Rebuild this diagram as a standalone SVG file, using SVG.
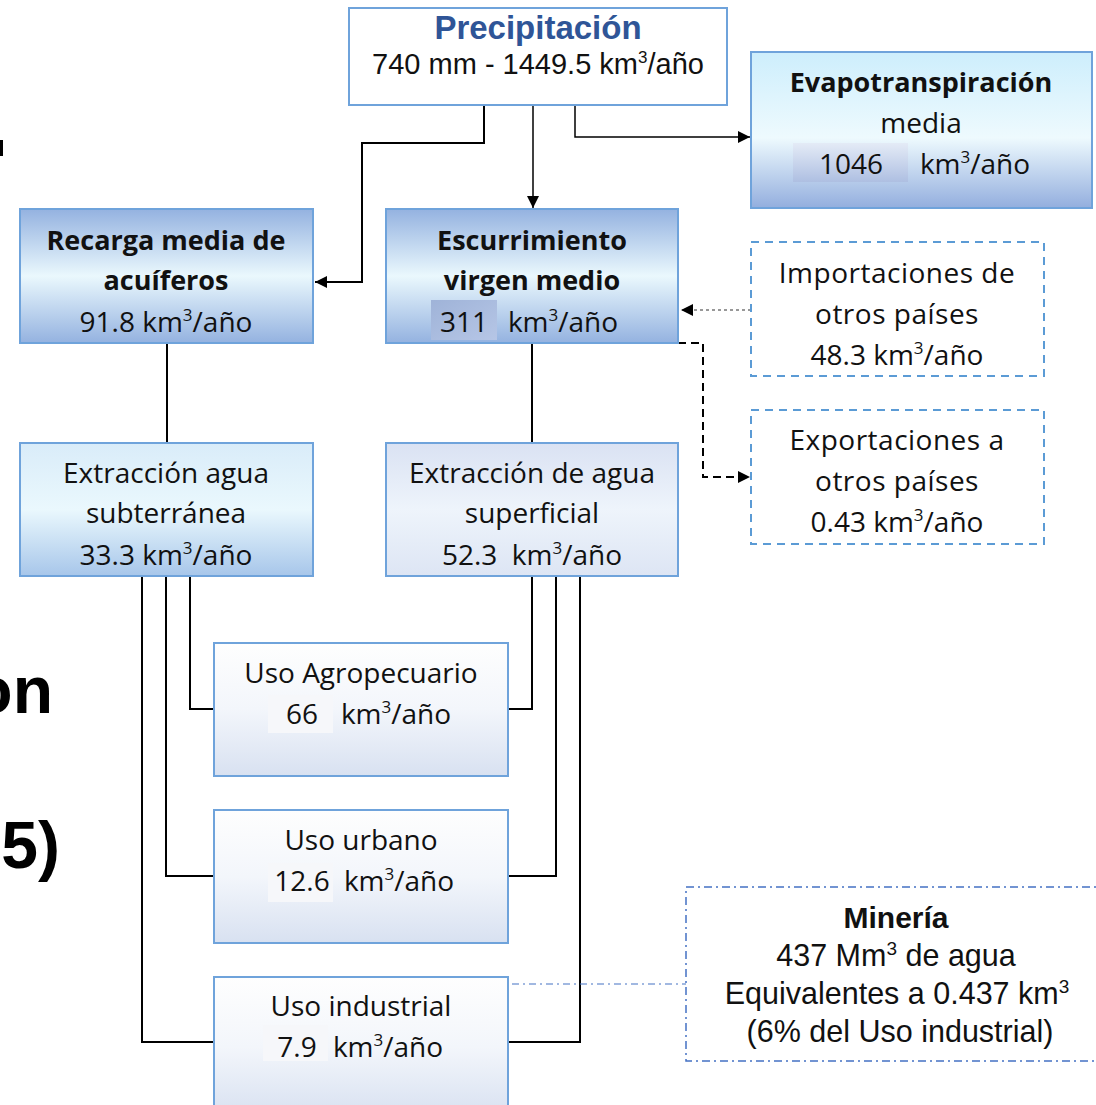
<svg xmlns="http://www.w3.org/2000/svg" width="1096" height="1105" viewBox="0 0 1096 1105">
<style>
.box{stroke:#6fa3db;stroke-width:2}
.t{font-family:"Open Sans","Liberation Sans",sans-serif;font-size:28px;fill:#111;text-anchor:middle}
.b{font-weight:bold}
.a{font-family:"Liberation Sans",Arial,sans-serif}
.ln{stroke:#000;stroke-width:2;fill:none}
.dash{stroke:#5b9bd5;stroke-width:2;stroke-dasharray:8 6;fill:#fff}
</style>
<defs>
<marker id="ah" viewBox="0 0 10 10" refX="10" refY="5" markerWidth="13" markerHeight="12" markerUnits="userSpaceOnUse" orient="auto"><path d="M0,0 L10,5 L0,10z" fill="#000"/></marker>
<linearGradient id="gEv" x1="0" y1="0" x2="0" y2="1"><stop offset="0" stop-color="#cdeefc"/><stop offset="0.55" stop-color="#eefafe"/><stop offset="1" stop-color="#93aede"/></linearGradient>
<linearGradient id="gRe" x1="0" y1="0" x2="0" y2="1"><stop offset="0" stop-color="#94b2e0"/><stop offset="0.5" stop-color="#eaf8fd"/><stop offset="1" stop-color="#94b2e0"/></linearGradient>
<linearGradient id="gSub" x1="0" y1="0" x2="0" y2="1"><stop offset="0" stop-color="#d9ecf9"/><stop offset="0.5" stop-color="#eaf8fd"/><stop offset="1" stop-color="#a7c6ea"/></linearGradient>
<linearGradient id="gSup" x1="0" y1="0" x2="0" y2="1"><stop offset="0" stop-color="#dae2f3"/><stop offset="0.5" stop-color="#eef4fb"/><stop offset="1" stop-color="#dde5f4"/></linearGradient>
<linearGradient id="gUso" x1="0" y1="0" x2="0" y2="1"><stop offset="0" stop-color="#fefefe"/><stop offset="0.5" stop-color="#f3f6fb"/><stop offset="1" stop-color="#d8e1f1"/></linearGradient>
<linearGradient id="gHi" x1="0" y1="0" x2="1" y2="1"><stop offset="0" stop-color="#9fb3d8"/><stop offset="1" stop-color="#b6c6e6"/></linearGradient>
<linearGradient id="gHi2" x1="0" y1="0" x2="0" y2="1"><stop offset="0" stop-color="#e4ebf6"/><stop offset="1" stop-color="#aebfe2"/></linearGradient>
</defs>

<!-- background fragments -->
<rect x="0" y="140" width="3" height="16" fill="#000"/>
<text x="53" y="713" class="a b" style="font-size:66px;text-anchor:end;fill:#000">on</text>
<text x="60" y="868" class="a b" style="font-size:66px;text-anchor:end;fill:#000">5)</text>

<g id="connectors">
<path class="ln" d="M484,105 V143 H362 V282 H315" marker-end="url(#ah)"/>
<path class="ln" style="stroke-width:1.5" d="M533,105 V208" marker-end="url(#ah)"/>
<path class="ln" style="stroke-width:1.5" d="M575,105 V137 H750" marker-end="url(#ah)"/>
<path class="ln" style="stroke:#777;stroke-width:1.5;stroke-dasharray:3 3" d="M751,310 H681" marker-end="url(#ah)"/>
<path class="ln" style="stroke-dasharray:8 5" d="M678,343 H703 V477 H750" marker-end="url(#ah)"/>
<path class="ln" d="M167,343 V443"/>
<path class="ln" d="M532,343 V443"/>
<path class="ln" d="M190,576 V709 H214"/>
<path class="ln" d="M166,576 V876 H214"/>
<path class="ln" d="M142,576 V1042 H214"/>
<path class="ln" d="M532,576 V709 H508"/>
<path class="ln" d="M556,576 V876 H508"/>
<path class="ln" d="M580,576 V1042 H508"/>
<path d="M512,984 H686" fill="none" stroke="#4472c4" stroke-width="1.2" stroke-dasharray="7 4 2 4"/>
</g>

<g id="precipitacion">
<rect x="349" y="8" width="378" height="97" fill="#fff" class="box"/>
<text x="538" y="39" class="t a b" style="font-size:33px;fill:#2f5597">Precipitación</text>
<text x="538" y="74" class="t a" style="font-size:29px">740 mm - 1449.5 km<tspan font-size="17" dy="-11">3</tspan><tspan dy="11">/año</tspan></text>
</g>

<g id="evapotranspiracion">
<rect x="751" y="52" width="341" height="156" fill="url(#gEv)" class="box"/>
<text x="921" y="92" class="t b" style="font-size:27px">Evapotranspiración</text>
<text x="921" y="133" class="t">media</text>
<rect x="793" y="143" width="115" height="39" fill="url(#gHi2)"/>
<text x="851" y="174" class="t">1046</text>
<text x="975" y="174" class="t">km<tspan font-size="17" dy="-11">3</tspan><tspan dy="11">/año</tspan></text>
</g>

<g id="recarga">
<rect x="20" y="209" width="293" height="134" fill="url(#gRe)" class="box"/>
<text x="166" y="250" class="t b" style="font-size:27px">Recarga media de</text>
<text x="166" y="290" class="t b" style="font-size:27px">acuíferos</text>
<text x="166" y="332" class="t">91.8 km<tspan font-size="17" dy="-11">3</tspan><tspan dy="11">/año</tspan></text>
</g>

<g id="escurrimiento">
<rect x="386" y="209" width="292" height="134" fill="url(#gRe)" class="box"/>
<text x="532" y="250" class="t b" style="font-size:27px">Escurrimiento</text>
<text x="532" y="290" class="t b" style="font-size:27px">virgen medio</text>
<rect x="431" y="300" width="66" height="40" fill="url(#gHi)"/>
<text x="464" y="332" class="t">311</text>
<text x="563" y="332" class="t">km<tspan font-size="17" dy="-11">3</tspan><tspan dy="11">/año</tspan></text>
</g>

<g id="importaciones">
<rect x="751" y="242" width="293" height="134" class="dash"/>
<text x="897" y="283" class="t" style="letter-spacing:0.5px">Importaciones de</text>
<text x="897" y="324" class="t" style="letter-spacing:0.5px">otros países</text>
<text x="897" y="365" class="t">48.3 km<tspan font-size="17" dy="-11">3</tspan><tspan dy="11">/año</tspan></text>
</g>

<g id="exportaciones">
<rect x="751" y="410" width="293" height="134" class="dash"/>
<text x="897" y="450" class="t" style="letter-spacing:0.5px">Exportaciones a</text>
<text x="897" y="491" class="t" style="letter-spacing:0.5px">otros países</text>
<text x="897" y="532" class="t">0.43 km<tspan font-size="17" dy="-11">3</tspan><tspan dy="11">/año</tspan></text>
</g>

<g id="extraccion-subterranea">
<rect x="20" y="443" width="293" height="133" fill="url(#gSub)" class="box"/>
<text x="166" y="483" class="t">Extracción agua</text>
<text x="166" y="523" class="t">subterránea</text>
<text x="166" y="565" class="t">33.3 km<tspan font-size="17" dy="-11">3</tspan><tspan dy="11">/año</tspan></text>
</g>

<g id="extraccion-superficial">
<rect x="386" y="443" width="292" height="133" fill="url(#gSup)" class="box"/>
<text x="532" y="483" class="t">Extracción de agua</text>
<text x="532" y="523" class="t">superficial</text>
<text x="532" y="565" class="t" xml:space="preserve">52.3  km<tspan font-size="17" dy="-11">3</tspan><tspan dy="11">/año</tspan></text>
</g>

<g id="uso-agropecuario">
<rect x="214" y="643" width="294" height="133" fill="url(#gUso)" class="box"/>
<text x="361" y="683" class="t">Uso Agropecuario</text>
<rect x="268" y="695" width="65" height="38" fill="#f6f7fa"/>
<text x="302" y="724" class="t">66</text>
<text x="396" y="724" class="t">km<tspan font-size="17" dy="-11">3</tspan><tspan dy="11">/año</tspan></text>
</g>

<g id="uso-urbano">
<rect x="214" y="810" width="294" height="133" fill="url(#gUso)" class="box"/>
<text x="361" y="850" class="t">Uso urbano</text>
<rect x="268" y="863" width="65" height="39" fill="#f6f7fa"/>
<text x="302" y="891" class="t">12.6</text>
<text x="399" y="891" class="t">km<tspan font-size="17" dy="-11">3</tspan><tspan dy="11">/año</tspan></text>
</g>

<g id="uso-industrial">
<rect x="214" y="977" width="294" height="140" fill="url(#gUso)" class="box"/>
<text x="361" y="1016" class="t">Uso industrial</text>
<rect x="263" y="1025" width="65" height="36" fill="#f6f7fa"/>
<text x="297" y="1057" class="t">7.9</text>
<text x="388" y="1057" class="t">km<tspan font-size="17" dy="-11">3</tspan><tspan dy="11">/año</tspan></text>
</g>

<g id="mineria">
<rect x="686" y="887" width="420" height="174" fill="#fff" stroke="#4472c4" stroke-width="1.5" stroke-dasharray="8 4 2 4"/>
<text x="896" y="928" class="t a b" style="font-size:30px">Minería</text>
<text x="896" y="966" class="t a" style="font-size:30.5px">437 Mm<tspan font-size="19" dy="-11">3</tspan><tspan dy="11"> de agua</tspan></text>
<text x="897" y="1004" class="t a" style="font-size:30.5px">Equivalentes a 0.437 km<tspan font-size="19" dy="-11">3</tspan></text>
<text x="900" y="1042" class="t a" style="font-size:30.5px">(6% del Uso industrial)</text>
</g>
</svg>
